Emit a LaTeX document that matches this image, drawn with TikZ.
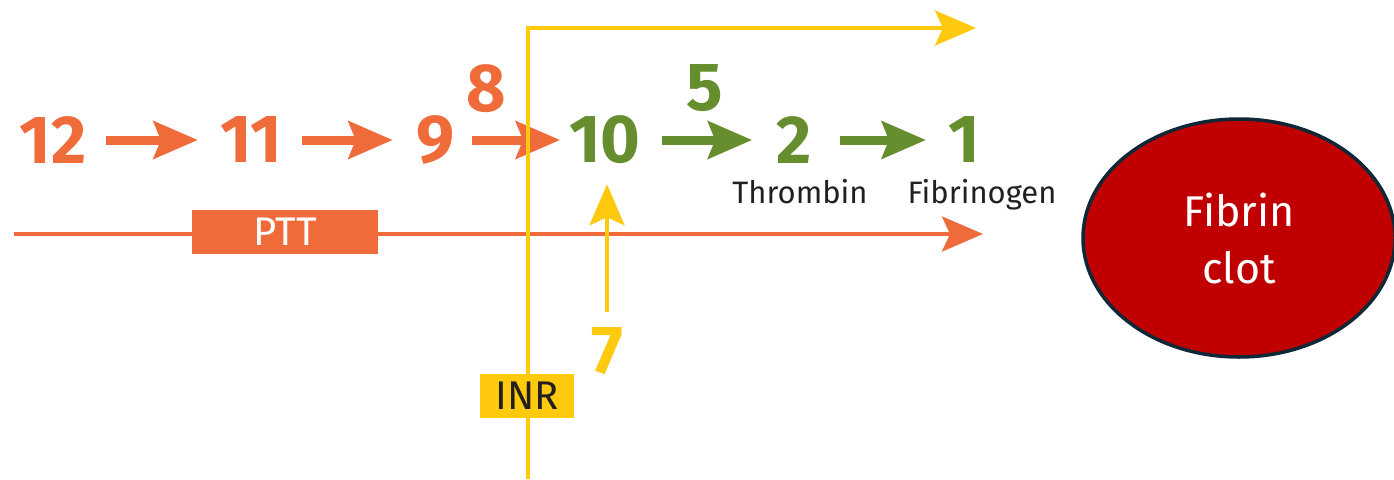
\documentclass[tikz,border=0pt]{standalone}
\usepackage{fontspec}
\setmainfont{Fira Sans}
\usetikzlibrary{arrows.meta,shapes.geometric}
\definecolor{org}{RGB}{240,107,58}
\definecolor{grn}{RGB}{102,142,46}
\definecolor{ylw}{RGB}{255,201,14}
\definecolor{clotred}{RGB}{192,0,0}
\definecolor{navy}{RGB}{14,40,56}
\definecolor{txt}{RGB}{35,31,32}
\begin{document}
\begin{tikzpicture}[x=1pt,y=-1pt,
  num/.style={font=\fontsize{68}{68}\selectfont\bfseries, inner sep=0pt},
  lbl/.style={font=\fontsize{31}{31}\selectfont, text=txt, inner sep=0pt, anchor=base},
  bigarrow/.style={line width=9pt, -{Stealth[length=44pt,width=37pt,inset=7pt]}},
  thinarrow/.style={line width=4pt, -{Stealth[length=41pt,width=35pt,inset=8pt]}},
  tagbox/.style={font=\fontsize{40}{40}\selectfont, inner sep=0pt, minimum width=#1, minimum height=44pt}
]
\useasboundingbox (0,0) rectangle (1394,479);

% numbers
\node[num, text=org] (n12) at (53,140) {12};
\node[num, text=org] (n11) at (251,140) {11};
\node[num, text=org] (n9)  at (436,140) {9};
\node[num, text=org] (n8)  at (486,89) {8};
\node[num, text=grn] (n10) at (605,140) {10};
\node[num, text=grn] (n5)  at (705,88) {5};
\node[num, text=grn] (n2)  at (794,140) {2};
\node[num, text=grn] (n1)  at (964,140) {1};
\node[num, text=ylw] (n7)  at (607,351) {7};

\node[lbl] (thr) at (800,203) {Thrombin};
\node[lbl] (fib) at (982,203) {Fibrinogen};

% orange cascade arrows
\draw[bigarrow, org, shorten <=19pt, shorten >=22pt] (n12) -- (n11);
\draw[bigarrow, org, shorten <=20pt, shorten >=24pt] (n11) -- (n9);
\draw[bigarrow, org, shorten <=17pt, shorten >=9pt] (n9) -- (n10);
% green arrows
\draw[bigarrow, grn, shorten <=21pt, shorten >=24pt] (n10) -- (n2);
\draw[bigarrow, grn, shorten <=28pt, shorten >=22pt] (n2) -- (n1);

% PTT line
\coordinate (pttstart) at (14,234);
\coordinate (pttend) at (983,234);
\draw[thinarrow, org] (pttstart) -- (pttend);
\node[tagbox=186pt, fill=org, text=white] (ptt) at (285,232) {PTT};

% factor 7 arrow to 10
\draw[thinarrow, ylw, shorten <=15pt, shorten >=20pt] (n7.north) -- (n7.north |- n10.south);

% INR line
\coordinate (ybot) at (528,479);
\coordinate (ycorner) at (528,28);
\coordinate (yend) at (976,28);
\draw[thinarrow, ylw] (ybot) -- (ycorner) -- (yend);
\node[tagbox=94pt, fill=ylw, text=txt] (inr) at (527,396) {INR};

% fibrin clot
\node[ellipse, draw=navy, line width=3.5pt, fill=clotred, minimum width=312pt, minimum height=238pt] (clot) at (1239,238) {};
\node[font=\fontsize{43}{57}\selectfont, text=white, align=center, inner sep=0pt] (clottext) at (clot.center) {Fibrin\\clot};
\end{tikzpicture}
\end{document}
